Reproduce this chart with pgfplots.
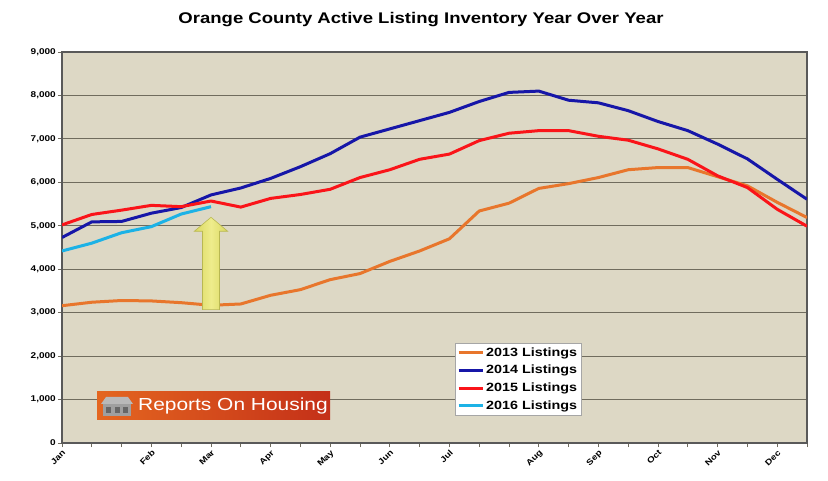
\documentclass[border=0pt]{standalone}
\usepackage{fontspec}
\setmainfont{Liberation Sans}[FakeStretch=1.2]
\usepackage{pgfplots}
\pgfplotsset{compat=1.18}
\definecolor{bg}{RGB}{221,216,197}
\definecolor{c13}{RGB}{232,118,44}
\definecolor{c14}{RGB}{22,22,168}
\definecolor{c15}{RGB}{250,20,25}
\definecolor{c16}{RGB}{28,178,230}
\definecolor{gridc}{RGB}{112,108,94}
\definecolor{arrE}{RGB}{218,216,96}
\definecolor{arrL}{RGB}{238,236,140}
\definecolor{logoL}{RGB}{228,102,32}
\definecolor{logoR}{RGB}{196,48,24}
\begin{document}
\begin{tikzpicture}
\path[use as bounding box, fill=white] (0,0) rectangle (828bp,481bp);
\node[font=\bfseries\fontsize{15.5}{17}\selectfont] at (421bp,461bp) {Orange County Active Listing Inventory Year Over Year};
\begin{axis}[
  at={(62bp,38bp)}, anchor=south west,
  scale only axis, width=745bp, height=391bp,
  xmin=0, xmax=25, ymin=0, ymax=9000,
  axis background/.style={fill=bg},
  xtick={0,3,5,7,9,11,13,16,18,20,22,24},
  xticklabels={Jan,Feb,Mar,Apr,May,Jun,Jul,Aug,Sep,Oct,Nov,Dec},
  minor xtick={1,2,4,6,8,10,12,14,15,17,19,21,23,25},
  x tick label style={rotate=45, anchor=north east, font=\bfseries\fontsize{8.2}{9}\selectfont, inner sep=1.5bp},
  ytick={0,1000,...,9000},
  y tick label style={font=\bfseries\fontsize{8.4}{10}\selectfont, inner sep=2bp},
  /pgf/number format/1000 sep={,},
  /pgf/number format/assume math mode=true,
  ymajorgrids,
  major grid style={gridc, line width=1.1bp},
  tick align=outside, major tick length=4bp, minor tick length=4bp,
  tick style={gridc, line width=0.8bp},
  xtick pos=left, ytick pos=left,
  axis line style={black!65, line width=1.6bp},
  every axis plot/.append style={line width=3bp, line join=round, mark=none},
  legend style={at={(0.5275,0.2558)}, anchor=north west, draw=gray!70, fill=white,
    font=\bfseries\fontsize{12}{13}\selectfont, inner xsep=2bp, inner ysep=2.5bp, row sep=3.5bp,
    cells={anchor=west}},
  legend image code/.code={\draw[#1] (0bp,0bp) -- (24bp,0bp);},
]
\addplot[c13] coordinates {(0,3160)(1,3240)(2,3280)(3,3270)(4,3230)(5,3170)(6,3200)(7,3400)(8,3530)(9,3760)(10,3900)(11,4180)(12,4420)(13,4700)(14,5340)(15,5520)(16,5860)(17,5970)(18,6110)(19,6290)(20,6340)(21,6340)(22,6130)(23,5920)(24,5540)(25,5190)};
\addplot[c14] coordinates {(0,4730)(1,5090)(2,5100)(3,5290)(4,5420)(5,5710)(6,5870)(7,6090)(8,6360)(9,6660)(10,7040)(11,7230)(12,7420)(13,7610)(14,7860)(15,8070)(16,8100)(17,7890)(18,7830)(19,7650)(20,7400)(21,7190)(22,6880)(23,6540)(24,6070)(25,5610)};
\addplot[c15] coordinates {(0,5020)(1,5260)(2,5360)(3,5470)(4,5440)(5,5570)(6,5430)(7,5630)(8,5720)(9,5840)(10,6110)(11,6290)(12,6530)(13,6650)(14,6960)(15,7130)(16,7190)(17,7190)(18,7060)(19,6970)(20,6770)(21,6530)(22,6150)(23,5880)(24,5380)(25,4990)};
\addplot[c16] coordinates {(0,4420)(1,4600)(2,4840)(3,4980)(4,5270)(5,5440)};
\legend{2013 Listings,2014 Listings,2015 Listings,2016 Listings}
\shade[left color=arrE, right color=arrE, middle color=arrL, draw=arrE!85!black, line width=0.6bp]
  (axis cs:4.715,3070) -- (axis cs:5.285,3070) -- (axis cs:5.285,4873) -- (axis cs:5.56,4873)
  -- (axis cs:5,5196) -- (axis cs:4.44,4873) -- (axis cs:4.715,4873) -- cycle;
\end{axis}
% logo
\shade[left color=logoL, right color=logoR] (97bp,61bp) rectangle (330bp,89bp);
\fill[gray!55] (101bp,77bp) -- (106bp,84bp) -- (128bp,84bp) -- (133bp,77bp) -- cycle;
\fill[gray!75] (103bp,65bp) rectangle (131bp,77bp);
\fill[black!60] (106bp,68bp) rectangle (111bp,74bp);
\fill[black!60] (115bp,68bp) rectangle (120bp,74bp);
\fill[black!60] (123bp,68bp) rectangle (128bp,74bp);
\node[anchor=west, inner sep=0pt, text=white, font=\fontsize{17.5}{18}\selectfont] at (138bp,75bp) {Reports On Housing};
\end{tikzpicture}
\end{document}
